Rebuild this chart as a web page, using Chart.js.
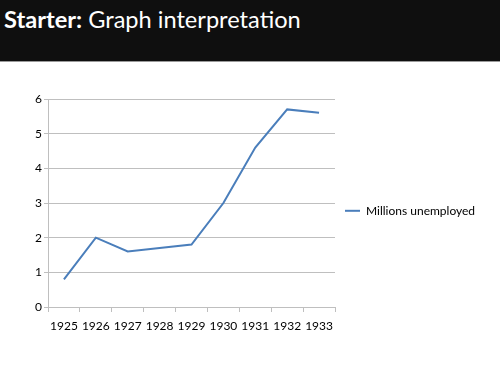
<!DOCTYPE html>
<html>
<head>
<meta charset="utf-8">
<script src="https://cdn.jsdelivr.net/npm/chart.js@4"></script>
<style>
  html, body { margin: 0; padding: 0; background: #fff; width: 500px; height: 375px; overflow: hidden; }
  #header { position: absolute; left: 0; top: 0; width: 500px; height: 61px; background: #0f0f0f; border-bottom: 1px solid #9a9a9a; }
  #title { position: absolute; left: 4px; top: 5px; font-family: Lato, "Open Sans", sans-serif; font-size: 23.6px; color: #fff; white-space: nowrap; }
  #title b { font-weight: 700; }
  #wrap { position: absolute; left: 0; top: 62px; width: 500px; height: 298px; }
</style>
</head>
<body>
<div id="header"><div id="title"><b>Starter:</b> Graph interpretation</div></div>
<div id="wrap"><canvas id="c" width="500" height="298"></canvas></div>
<script>
const categories = ["1925", "1926", "1927", "1928", "1929", "1930", "1931", "1932", "1933"];
const unemployed = [0.8, 2.0, 1.6, 1.7, 1.8, 3.0, 4.6, 5.7, 5.6];
const seriesName = "Millions unemployed";
const yTicks = [0, 1, 2, 3, 4, 5, 6];

const FONT = { family: 'Lato, "Open Sans", sans-serif', size: 12 };
const GRID = '#bfbfbf';
const LEGEND_WIDTH = 165;

// let the legend take a fixed width on the right (Chart.js caps side boxes at 1/4 width)
const legendWidthPlugin = {
  id: 'legendWidth',
  afterInit(chart) {
    const lg = chart.legend;
    if (!lg) return;
    const fit = lg.fit.bind(lg);
    lg.fit = function () { fit(); this.width = LEGEND_WIDTH; };
  }
};

function draw() {
  new Chart(document.getElementById('c'), {
    type: 'line',
    data: {
      labels: categories,
      datasets: [{
        label: seriesName,
        data: unemployed,
        borderColor: '#4a7ebb',
        backgroundColor: '#4a7ebb',
        borderWidth: 2,
        pointRadius: 0,
        tension: 0,
        fill: false
      }]
    },
    plugins: [legendWidthPlugin],
    options: {
      responsive: false,
      animation: false,
      layout: { padding: { top: 37, left: 0, right: 0, bottom: 23 } },
      plugins: {
        tooltip: { enabled: false },
        legend: {
          position: 'right',
          fullSize: false,
          title: { display: true, text: ' ', font: { size: 13 }, padding: 0 },
          labels: {
            color: '#000',
            font: FONT,
            boxWidth: 15,
            boxHeight: 2,
            padding: 10,
            generateLabels: (ch) => Chart.defaults.plugins.legend.labels.generateLabels(ch).map(l => Object.assign(l, { lineWidth: 0 }))
          }
        }
      },
      scales: {
        x: {
          offset: true,
          grid: { drawOnChartArea: false, offset: true, tickLength: 5, color: GRID },
          border: { color: GRID },
          ticks: { color: '#000', font: FONT, maxRotation: 0, padding: 7 },
          afterFit: (s) => { s.height = 30; }
        },
        y: {
          min: 0, max: 6,
          afterBuildTicks: (s) => { s.ticks = yTicks.map(v => ({ value: v })); },
          grid: { color: GRID, tickLength: 4 },
          border: { color: GRID },
          ticks: { color: '#000', font: FONT, padding: 2 },
          afterFit: (s) => { s.width = 48; }
        }
      }
    }
  });
}
Promise.all([document.fonts.load('12px Lato'), document.fonts.load('bold 12px Lato')]).then(draw, draw);
</script>
</body>
</html>
